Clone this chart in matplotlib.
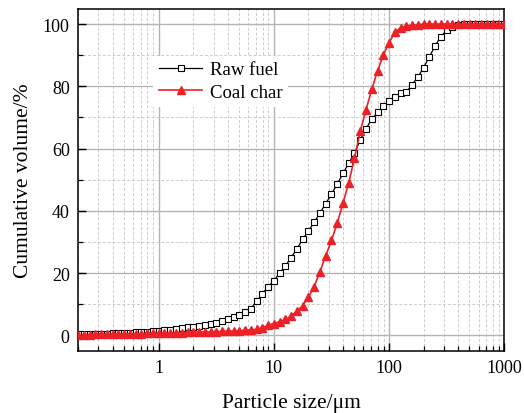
import numpy as np
import matplotlib
matplotlib.use("Agg")
from matplotlib import pyplot as plt
from matplotlib.ticker import FixedLocator, NullFormatter

plt.rcParams['font.family'] = ['Liberation Serif', 'DejaVu Serif']
plt.rcParams['mathtext.fontset'] = 'stix'

# particle size classes (um), laser diffraction bins
size = [0.200, 0.224, 0.252, 0.283, 0.317, 0.356, 0.399, 0.448, 0.502, 0.564,
        0.632, 0.710, 0.796, 0.893, 1.002, 1.125, 1.262, 1.416, 1.589, 1.783,
        2.000, 2.244, 2.518, 2.825, 3.170, 3.557, 3.991, 4.477, 5.024, 5.637,
        6.325, 7.096, 7.962, 8.934, 10.02, 11.25, 12.62, 14.16, 15.89, 17.83,
        20.00, 22.44, 25.18, 28.25, 31.70, 35.57, 39.91, 44.77, 50.24, 56.37,
        63.25, 70.96, 79.62, 89.34, 100.2, 112.5, 126.2, 141.6, 158.9, 178.3,
        200.0, 224.4, 251.8, 282.5, 317.0, 355.7, 399.1, 447.7, 502.4, 563.7,
        632.5, 709.6, 796.2, 893.4, 1002.4]

# cumulative volume (%)
raw_fuel = [0.3, 0.35, 0.4, 0.45, 0.5, 0.55, 0.6, 0.7, 0.8, 0.9,
            1.0, 1.1, 1.2, 1.3, 1.4, 1.6, 1.8, 2.05, 2.3, 2.6,
            2.8, 3.0, 3.4, 3.7, 4.1, 4.6, 5.2, 5.9, 6.6, 7.5,
            8.6, 11.0, 13.4, 15.6, 17.6, 20.0, 22.3, 25.0, 27.8, 30.8,
            33.6, 36.3, 39.3, 42.3, 45.4, 48.6, 52.0, 55.3, 58.5, 62.8,
            66.4, 69.4, 71.7, 73.6, 75.3, 76.5, 77.8, 78.2, 80.5, 83.0,
            86.0, 89.5, 93.0, 96.0, 98.0, 99.2, 99.7, 100, 100, 100,
            100, 100, 100, 100, 100]

coal_char = [0.2, 0.22, 0.25, 0.28, 0.3, 0.33, 0.36, 0.4, 0.43, 0.46,
             0.5, 0.55, 0.6, 0.65, 0.7, 0.74, 0.78, 0.83, 0.88, 0.93,
             1.0, 1.05, 1.1, 1.15, 1.2, 1.25, 1.3, 1.4, 1.5, 1.6,
             1.75, 1.9, 2.5, 3.2, 3.8, 4.4, 5.1, 6.2, 7.8, 9.5,
             12.3, 15.6, 20.5, 25.5, 30.5, 36.0, 42.5, 49.0, 57.0, 65.5,
             72.5, 79.0, 85.0, 90.0, 94.0, 97.3, 98.8, 99.3, 99.6, 99.8,
             100, 100, 100, 100, 100, 100, 100, 100, 100, 100,
             100, 100, 100, 100, 100]

fig = plt.figure(figsize=(5.24, 4.14), dpi=100)
ax = fig.add_axes([0.149, 0.150, 0.813, 0.827])

ax.plot(size, raw_fuel, color='black', lw=0.9, marker='s', ms=5.0,
        mfc='white', mec='black', mew=0.8, label='Raw fuel', zorder=3)
ax.plot(size, coal_char, color='#ec2127', lw=1.2, marker='^', ms=5.6,
        mfc='#ec2127', mec='#ec2127', label='Coal char', zorder=4)

ax.set_xscale('log')
ax.set_xlim(0.2, 1000)
ax.set_ylim(-5, 105)
ax.xaxis.set_major_locator(FixedLocator([1, 10, 100, 1000]))
ax.set_xticklabels(['1', '10', '100', '1000'])
minor = [m * d for d in [0.1, 1, 10, 100] for m in range(2, 10)]
ax.xaxis.set_minor_locator(FixedLocator(minor))
ax.xaxis.set_minor_formatter(NullFormatter())
ax.set_yticks([0, 20, 40, 60, 80, 100])
ax.set_yticks([10, 30, 50, 70, 90], minor=True)

ax.grid(which='major', color='#b4b4b4', lw=1.0, ls='-')
ax.grid(which='minor', color='#d2caca', lw=0.7, ls=(0, (3, 2)))
ax.set_axisbelow(True)

ax.tick_params(which='major', direction='in', length=6, width=1.0,
               labelsize=13, pad=6, top=False, right=False)
ax.tick_params(which='minor', direction='in', length=3.5, width=0.9,
               top=False, right=False)
for s in ax.spines.values():
    s.set_linewidth(1.1)

ax.set_xlabel('Particle size/μm', fontsize=15.5, labelpad=12)
ax.set_ylabel('Cumulative volume/%', fontsize=15.5, labelpad=7)

leg = ax.legend(loc='upper left', bbox_to_anchor=(0.155, 0.89), fontsize=13.5,
                frameon=True, fancybox=False, edgecolor='none',
                framealpha=1, handlelength=2.3, handletextpad=0.4,
                borderpad=0.3, labelspacing=0.3)

fig.savefig('out.png', dpi=100)
